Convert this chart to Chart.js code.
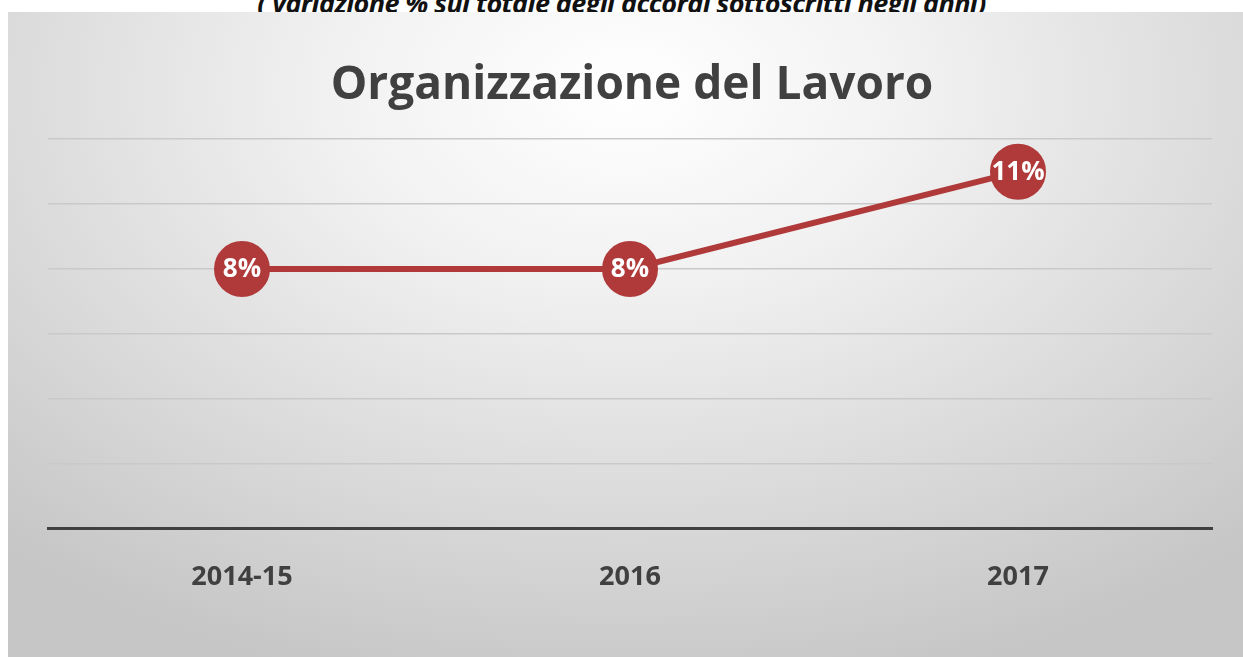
<!DOCTYPE html>
<html>
<head>
<meta charset="utf-8">
<script src="https://cdn.jsdelivr.net/npm/chart.js@4"></script>
<style>
  html, body { margin: 0; padding: 0; background: #ffffff; overflow: hidden; }
  #note {
    position: absolute; left: 0; width: 1243px; top: -16px;
    text-align: center; font-family: "Open Sans", sans-serif;
    font-weight: 700; font-style: italic; font-size: 27px; color: #111;
    letter-spacing: -0.6px;
  }
  #panel {
    position: absolute; left: 8px; top: 12px; width: 1235px; height: 645px;
    background: radial-gradient(ellipse 75% 95% at 50% 12%, #ffffff 0%, #f2f2f2 30%, #dcdcdc 65%, #c6c6c6 100%);
  }
  #wrap { position: absolute; left: 0; top: 0; width: 1243px; height: 657px; }
</style>
</head>
<body>
<div id="note">( variazione % sul totale degli accordi sottoscritti negli anni)</div>
<div id="panel"></div>
<div id="wrap"><canvas id="lavoroChart"></canvas></div>
<script>
var years = ['2014-15', '2016', '2017'];
var shares = [8, 8, 11];
var yTicks = [0, 2, 4, 6, 8, 10, 12];

// writes the percentage inside each marker
var valueLabels = {
    id: 'valueLabels',
    afterDatasetsDraw: function(chart) {
        var ctx = chart.ctx;
        var meta = chart.getDatasetMeta(0);
        ctx.save();
        ctx.fillStyle = '#ffffff';
        ctx.font = 'bold 26px "Open Sans"';
        ctx.textAlign = 'center';
        ctx.textBaseline = 'middle';
        meta.data.forEach(function(pt, i) {
            ctx.fillText(shares[i] + '%', pt.x, pt.y + 1);
        });
        ctx.restore();
    }
};

var ctx = document.getElementById('lavoroChart').getContext('2d');
var lavoroChart = new Chart(ctx, {
    type: 'line',
    data: {
        labels: years,
        datasets: [{
            label: 'Organizzazione del Lavoro',
            data: shares,
            borderColor: '#b03a3a',
            borderWidth: 6,
            pointBackgroundColor: '#b03a3a',
            pointBorderColor: '#b03a3a',
            pointRadius: 25,
            pointHoverRadius: 25,
            tension: 0,
            clip: false
        }]
    },
    options: {
        responsive: true,
        maintainAspectRatio: false,
        animation: false,
        layout: {
            padding: { left: 48, right: 27, top: 34, bottom: 30 }
        },
        plugins: {
            legend: { display: false },
            tooltip: { enabled: false },
            title: {
                display: true,
                text: 'Organizzazione del Lavoro',
                color: '#404040',
                font: { family: '"Open Sans"', size: 46, weight: 'bold' },
                padding: { top: 24, bottom: 26 }
            }
        },
        scales: {
            x: {
                offset: true,
                grid: { display: false, drawTicks: false },
                border: { display: true, color: '#404040', width: 3 },
                ticks: {
                    color: '#404040',
                    padding: 33,
                    font: { family: '"Open Sans"', size: 27, weight: 'bold' }
                }
            },
            y: {
                min: 0,
                max: 12,
                afterBuildTicks: function(axis) {
                    axis.ticks = yTicks.map(function(v) { return { value: v }; });
                },
                grid: { color: '#c9c9c9', lineWidth: 1.5, drawTicks: false },
                border: { display: false },
                ticks: { display: false }
            }
        }
    },
    plugins: [valueLabels]
});
</script>
</body>
</html>
